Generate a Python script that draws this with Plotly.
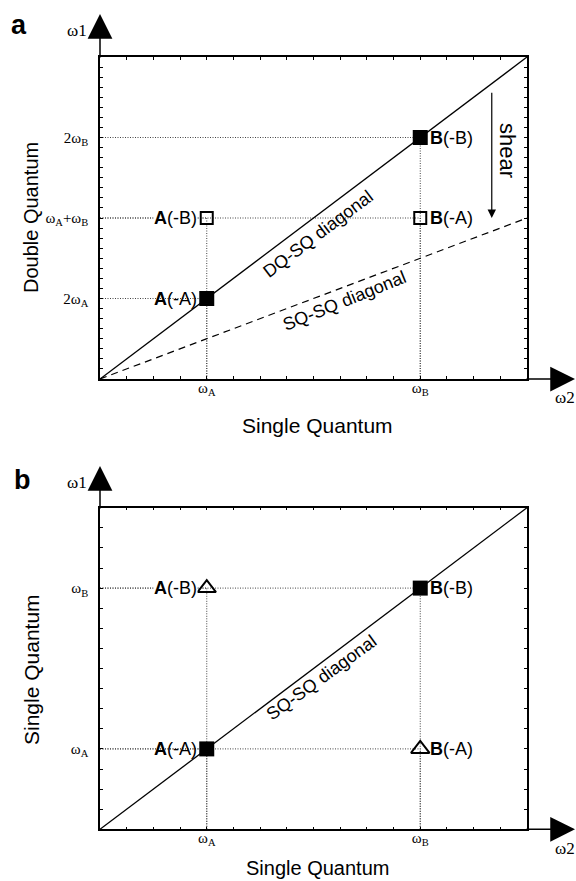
import plotly.graph_objects as go

W, H = 576, 881

# ---------------- data ----------------
x_tickvals = [4, 12]
x_ticktext = ["ω<sub>A</sub>", "ω<sub>B</sub>"]

# panel a (DQ vs SQ)
a_yticks = [8, 16, 24]
a_yticktext = ["2ω<sub>A</sub>", "ω<sub>A</sub>+ω<sub>B</sub>", "2ω<sub>B</sub>"]
a_pts_x = [4, 12, 4, 12]
a_pts_y = [8, 24, 16, 16]
a_labels = ["<b>A</b>(-A)", "<b>B</b>(-B)", "<b>A</b>(-B)", "<b>B</b>(-A)"]
a_filled = [True, True, False, False]
a_label_side = ["left", "right", "left", "right"]
a_dq_x, a_dq_y = [0, 16], [0, 32]
a_sq_x, a_sq_y = [0, 16], [0, 16]
a_range_x, a_range_y = [0, 16], [0, 32]

# panel b (SQ vs SQ)
b_yticks = [4, 12]
b_yticktext = ["ω<sub>A</sub>", "ω<sub>B</sub>"]
b_pts_x = [4, 12, 4, 12]
b_pts_y = [4, 12, 12, 4]
b_labels = ["<b>A</b>(-A)", "<b>B</b>(-B)", "<b>A</b>(-B)", "<b>B</b>(-A)"]
b_filled = [True, True, False, False]
b_label_side = ["left", "right", "left", "right"]
b_sq_x, b_sq_y = [0, 16], [0, 16]
b_range_x, b_range_y = [0, 16], [0, 16]

# ---------------- helpers ----------------
def px(xp):
    return xp / W

def py(yp):
    return 1 - yp / H

SANS = "Liberation Sans, Arial, sans-serif"
SERIF = "Liberation Serif, Times New Roman, serif"

def guides(xs, ys):
    gx, gy = [], []
    for x, y in zip(xs, ys):
        gx += [0, x, None, x, x, None]
        gy += [y, y, None, 0, y, None]
    return gx, gy

fig = go.Figure()

# panel a guides
gx, gy = guides(a_pts_x, a_pts_y)
fig.add_trace(go.Scatter(x=gx, y=gy, mode="lines", xaxis="x", yaxis="y",
                         line=dict(color="#444", width=1, dash="1px,1.5px"),
                         hoverinfo="skip", showlegend=False))
# diagonals a
fig.add_trace(go.Scatter(x=a_dq_x, y=a_dq_y, mode="lines", xaxis="x", yaxis="y",
                         line=dict(color="black", width=1.3), showlegend=False, hoverinfo="skip"))
fig.add_trace(go.Scatter(x=a_sq_x, y=a_sq_y, mode="lines", xaxis="x", yaxis="y",
                         line=dict(color="black", width=1.2, dash="7px,5px"), showlegend=False, hoverinfo="skip"))

# panel b guides
gx, gy = guides(b_pts_x, b_pts_y)
fig.add_trace(go.Scatter(x=gx, y=gy, mode="lines", xaxis="x2", yaxis="y2",
                         line=dict(color="#444", width=1, dash="1px,1.5px"),
                         hoverinfo="skip", showlegend=False))
fig.add_trace(go.Scatter(x=b_sq_x, y=b_sq_y, mode="lines", xaxis="x2", yaxis="y2",
                         line=dict(color="black", width=1.3), showlegend=False, hoverinfo="skip"))

def add_markers(xa, ya, xs, ys, filled, open_symbol, open_size, filled_size):
    fx = [x for x, f in zip(xs, filled) if f]
    fy = [y for y, f in zip(ys, filled) if f]
    ox = [x for x, f in zip(xs, filled) if not f]
    oy = [y for y, f in zip(ys, filled) if not f]
    fig.add_trace(go.Scatter(x=fx, y=fy, mode="markers", xaxis=xa, yaxis=ya, cliponaxis=False,
                             marker=dict(symbol="square", size=filled_size, color="black",
                                         line=dict(width=0)),
                             showlegend=False, hoverinfo="skip"))
    fig.add_trace(go.Scatter(x=ox, y=oy, mode="markers", xaxis=xa, yaxis=ya, cliponaxis=False,
                             marker=dict(symbol=open_symbol, size=open_size, color="black",
                                         line=dict(width=2, color="black")),
                             showlegend=False, hoverinfo="skip"))

add_markers("x", "y", a_pts_x, a_pts_y, a_filled, "square-open", 12, 15)
add_markers("x2", "y2", b_pts_x, b_pts_y, b_filled, "triangle-up-open", 16, 15)

annotations = []

def point_labels(xref, yref, xs, ys, labels, sides, filled):
    for x, y, t, s, f in zip(xs, ys, labels, sides, filled):
        annotations.append(dict(
            x=x, y=y, xref=xref, yref=yref, text=t, showarrow=False,
            xanchor="right" if s == "left" else "left", yanchor="middle",
            xshift=-9 if s == "left" else 9,
            font=dict(family=SANS, size=18, color="black"),
            bgcolor="white" if (s == "left" and not f) else "rgba(0,0,0,0)", borderpad=0))

point_labels("x", "y", a_pts_x, a_pts_y, a_labels, a_label_side, a_filled)
point_labels("x2", "y2", b_pts_x, b_pts_y, b_labels, b_label_side, b_filled)

# axis arrows (paper coords)
def axis_arrow(tip_x, tip_y, dx, dy):
    annotations.append(dict(
        x=px(tip_x), y=py(tip_y), xref="paper", yref="paper", text="",
        showarrow=True, ax=dx, ay=dy, axref="pixel", ayref="pixel",
        arrowhead=2, arrowsize=3.3, arrowwidth=1.5, arrowcolor="black", standoff=0))

axis_arrow(575, 379, -50, 0)
axis_arrow(100, 14, 0, 45)
axis_arrow(575, 829.3, -50, 0)
axis_arrow(100, 466, 0, 44)

# shear arrow (panel a)
annotations.append(dict(x=14.68, y=16, xref="x", yref="y", ax=14.68, ay=28.6,
                        axref="x", ayref="y", text="", showarrow=True,
                        arrowhead=2, arrowsize=1.4, arrowwidth=1.2, arrowcolor="black", standoff=0))

def label(xx, yy, t, size, family=SANS, angle=0):
    annotations.append(dict(x=px(xx), y=py(yy), xref="paper", yref="paper", text=t,
                            showarrow=False, textangle=angle, xanchor="center", yanchor="middle",
                            font=dict(family=family, size=size, color="black")))

label(507, 150, "shear", 22, angle=90)

# diagonal labels
label(318, 234, "DQ-SQ diagonal", 18, angle=-37)
label(344, 301, "SQ-SQ diagonal", 18, angle=-22)
label(321, 678, "SQ-SQ diagonal", 18, angle=-36)

# axis name labels
for (xx, yy, t) in [(77, 31, "ω1"), (565, 397, "ω2"), (77, 482, "ω1"), (565, 848, "ω2")]:
    label(xx, yy, t, 17, family=SERIF)

# axis titles
label(31, 218, "Double Quantum", 20, angle=-90)
label(317, 425, "Single Quantum", 21)
label(31, 670, "Single Quantum", 21, angle=-90)
label(317, 868, "Single Quantum", 20)

# panel letters
label(19, 25, "<b>a</b>", 27)
label(22, 480, "<b>b</b>", 27)

def axis_style(rng, tickvals, ticktext, domain, anchor, standoff):
    return dict(range=rng, domain=domain, anchor=anchor, showgrid=False, zeroline=False,
                showline=True, linewidth=1.5, linecolor="black", mirror="allticks",
                ticks="inside", ticklen=3, tickwidth=1, tickcolor="black",
                tickmode="array", tickvals=tickvals, ticktext=ticktext,
                tickfont=dict(family=SERIF, size=15, color="black"),
                ticklabelstandoff=standoff,
                minor=dict(tickmode="linear", tick0=0, dtick=1, ticks="inside", ticklen=3,
                           tickwidth=1, tickcolor="black", showgrid=False),
                fixedrange=True, automargin=False)

xdom = [px(100), px(527)]
fig.update_layout(
    width=W, height=H, margin=dict(l=0, r=0, t=0, b=0),
    paper_bgcolor="white", plot_bgcolor="white", showlegend=False,
    xaxis=axis_style(a_range_x, x_tickvals, x_ticktext, xdom, "y", -6),
    yaxis=axis_style(a_range_y, a_yticks, a_yticktext, [py(379), py(57)], "x", 7),
    xaxis2=axis_style(b_range_x, x_tickvals, x_ticktext, xdom, "y2", -6),
    yaxis2=axis_style(b_range_y, b_yticks, b_yticktext, [py(829.3), py(507.7)], "x2", 7),
    annotations=annotations,
)

fig.write_html("out.html")
